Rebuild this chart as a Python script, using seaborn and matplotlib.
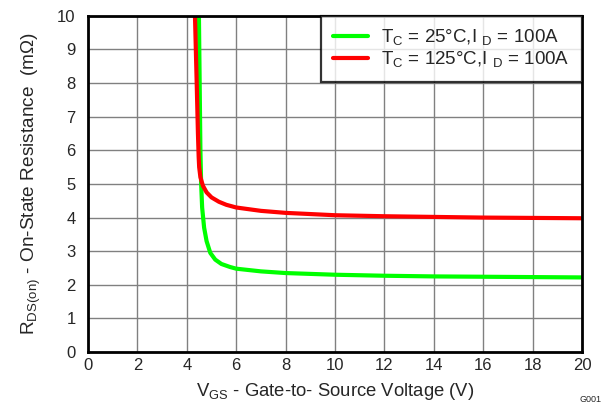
import matplotlib
matplotlib.use("Agg")
import matplotlib.pyplot as plt
import seaborn as sns
import pandas as pd

vgs_25 = [4.49, 4.52, 4.55, 4.58, 4.62, 4.7, 4.8, 4.95, 5.15, 5.4, 5.75, 6, 7, 8, 10, 12, 14, 16, 18, 20]
rds_25 = [10, 8, 6, 5, 4.3, 3.7, 3.3, 2.95, 2.75, 2.62, 2.53, 2.48, 2.4, 2.35, 2.3, 2.27, 2.25, 2.24, 2.23, 2.22]
vgs_125 = [4.33, 4.40, 4.45, 4.48, 4.5, 4.55, 4.65, 4.8, 5.0, 5.3, 5.6, 6, 7, 8, 10, 12, 14, 16, 18, 20]
rds_125 = [10, 8, 6.5, 5.8, 5.5, 5.2, 4.95, 4.75, 4.6, 4.47, 4.38, 4.3, 4.2, 4.14, 4.07, 4.04, 4.02, 4.0, 3.99, 3.98]
labels = [r"T$_\mathregular{C}$ = 25°C,I $_\mathregular{D}$ = 100A",
          r"T$_\mathregular{C}$ = 125°C,I $_\mathregular{D}$ = 100A"]
colors = ["#00ff00", "#ff0000"]

df = pd.concat([
    pd.DataFrame({"vgs": vgs_25, "rds": rds_25, "cond": labels[0]}),
    pd.DataFrame({"vgs": vgs_125, "rds": rds_125, "cond": labels[1]}),
])

sns.set_style("white")
plt.rcParams["font.family"] = ["Liberation Sans", "DejaVu Sans"]
plt.rcParams["mathtext.fontset"] = "custom"
plt.rcParams["mathtext.rm"] = "Liberation Sans"

fig = plt.figure(figsize=(6.05, 4.07), dpi=100)
ax = fig.add_axes([0.1455, 0.135, 0.8165, 0.826])

sns.lineplot(data=df, x="vgs", y="rds", hue="cond", palette=colors, sort=False,
             estimator=None, linewidth=3, ax=ax)

ax.set_xlim(0, 20)
ax.set_ylim(0, 10)
ax.set_xticks(range(0, 21, 2))
ax.set_yticks(range(0, 11))
ax.grid(True, color="#808080", linewidth=1)
ax.set_axisbelow(True)
for s in ax.spines.values():
    s.set_color("black")
    s.set_linewidth(2)
ax.tick_params(labelsize=12, length=0)
ax.tick_params(axis="x", pad=4)
ax.tick_params(axis="y", pad=9)
ax.set_xlabel(r"V$_\mathregular{GS}$ - Gate-to- Source Voltage (V)", fontsize=13.3, labelpad=6)
ax.set_ylabel(r"R$_\mathregular{DS(on)}$ - On-State Resistance  (m$\Omega$)", fontsize=13.7, labelpad=10)

leg = ax.legend(loc="upper right", fontsize=13.5, frameon=True, fancybox=False,
                borderaxespad=0, handlelength=1.9, handletextpad=0.7,
                borderpad=0.65, labelspacing=0.08)
leg.get_frame().set_edgecolor("black")
leg.get_frame().set_linewidth(1.6)

fig.text(0.958, 0.012, "G001", fontsize=6.5)

fig.savefig("out.png", dpi=100)
